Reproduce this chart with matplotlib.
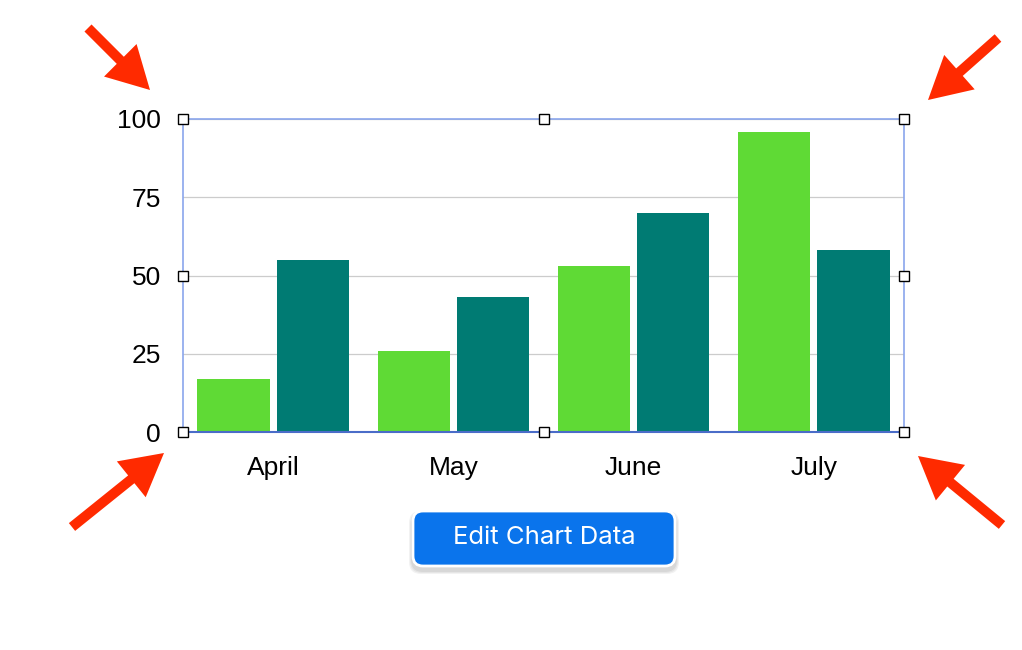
import numpy as np
import matplotlib
matplotlib.use("Agg")
import matplotlib.pyplot as plt
from matplotlib.patches import FancyBboxPatch, FancyArrow

months = ['April', 'May', 'June', 'July']
series_a = [17, 26, 53, 96]
series_b = [55, 43, 70, 58]
yticks = [0, 25, 50, 75, 100]

light_green = '#5FDA35'
teal = '#007B73'
frame_blue = '#8AA6EC'

plt.rcParams['font.family'] = ['Liberation Sans', 'DejaVu Sans']

fig = plt.figure(figsize=(10.22, 6.5), dpi=100)
ax = fig.add_axes([183 / 1022, 1 - 432 / 650, 721 / 1022, 313 / 650])

x = np.arange(len(months))
width = 0.4
ax.bar(x - 0.22, series_a, width, color=light_green, zorder=3)
ax.bar(x + 0.22, series_b, width, color=teal, zorder=3)

ax.set_xlim(-0.5, 3.5)
ax.set_ylim(0, 100)
ax.set_xticks(x)
ax.set_xticklabels(months, fontsize=19)
ax.set_yticks(yticks)
ax.set_yticklabels([str(t) for t in yticks], fontsize=19)
ax.tick_params(length=0)
ax.tick_params(axis='x', pad=17)
ax.tick_params(axis='y', pad=16)
ax.yaxis.grid(True, color='#CCCCCC', linewidth=0.9, zorder=0)

for side in ['top', 'left', 'right']:
    ax.spines[side].set_color(frame_blue)
    ax.spines[side].set_linewidth(1.2)
ax.spines['bottom'].set_color('#4A6CC8')
ax.spines['bottom'].set_linewidth(1.5)
ax.spines['bottom'].set_zorder(4)

# selection handles
hx = [0, 0.5, 1, 0, 1, 0, 0.5, 1]
hy = [1, 1, 1, 0.5, 0.5, 0, 0, 0]
ax.plot(hx, hy, 's', transform=ax.transAxes, clip_on=False, markersize=7.5,
        markerfacecolor='white', markeredgecolor='black', markeredgewidth=1.0,
        zorder=10)

# overlay in pixel coordinates
ov = fig.add_axes([0, 0, 1, 1], zorder=5)
ov.set_xlim(0, 1022)
ov.set_ylim(650, 0)
ov.axis('off')
ov.patch.set_visible(False)

arrow_red = '#FF2A00'
arrows = [((88, 28), (150, 90)), ((998, 38), (928, 100)),
          ((72, 527), (164, 453)), ((1002, 525), (918, 456))]
for (x0, y0), (x1, y1) in arrows:
    ov.add_patch(FancyArrow(x0, y0, x1 - x0, y1 - y0, width=10,
                            head_width=46, head_length=42,
                            length_includes_head=True, color=arrow_red,
                            linewidth=0))

# button with shadow
for i, a in enumerate([0.05, 0.05, 0.06]):
    s = 4 - i
    ov.add_patch(FancyBboxPatch((413 - s, 513 - s + 2), 262 + 2 * s, 55 + 2 * s,
                                boxstyle='round,pad=0,rounding_size=12',
                                facecolor='black', alpha=a, linewidth=0))
ov.add_patch(FancyBboxPatch((413, 511), 262, 55,
                            boxstyle='round,pad=0,rounding_size=10',
                            facecolor='#0A74EC', edgecolor='white',
                            linewidth=2))
ov.text(544, 538, 'Edit Chart Data', color='white', fontsize=18.5,
        ha='center', va='center', family=['Inter', 'DejaVu Sans'])

fig.savefig('out.png', dpi=100)
